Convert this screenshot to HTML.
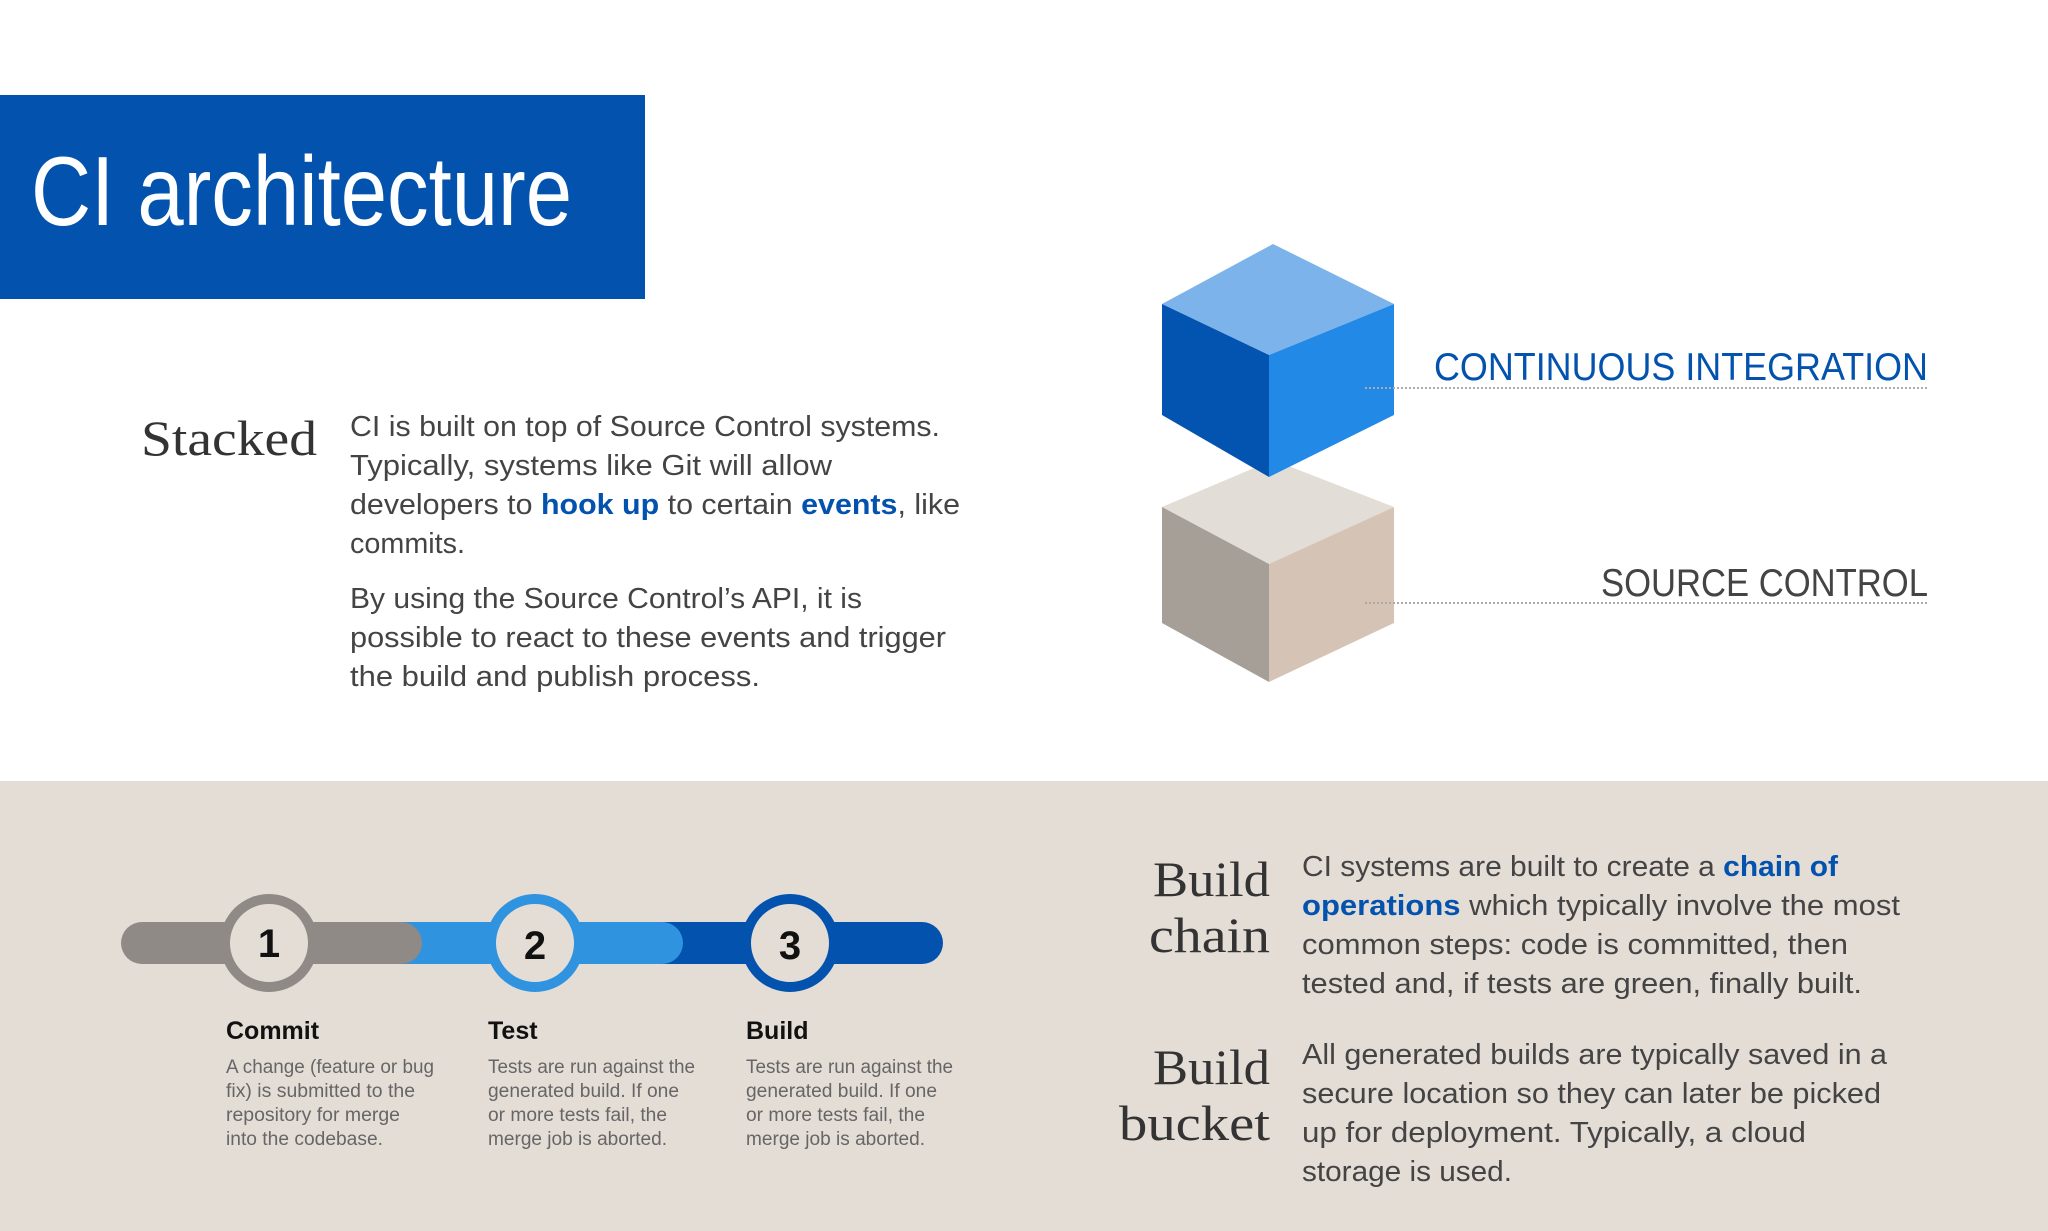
<!DOCTYPE html>
<html><head><meta charset="utf-8"><style>html,body{margin:0;padding:0;background:#fff}svg{display:block}</style></head>
<body>
<svg width="2048" height="1231" viewBox="0 0 2048 1231" xmlns="http://www.w3.org/2000/svg" font-family="Liberation Sans, sans-serif">
<rect width="2048" height="1231" fill="#fff"/>
<rect x="0" y="95" width="645" height="204" fill="#0353ae"/>
<text x="31" y="225" font-size="98" fill="#fff" textLength="541" lengthAdjust="spacingAndGlyphs">CI architecture</text>

<text x="141" y="455" font-size="50" font-family="Liberation Serif, serif" fill="#333" textLength="176" lengthAdjust="spacingAndGlyphs">Stacked</text>
<g font-size="29" fill="#444">
<text x="350" y="436" textLength="590" lengthAdjust="spacingAndGlyphs">CI is built on top of Source Control systems.</text>
<text x="350" y="475" textLength="482" lengthAdjust="spacingAndGlyphs">Typically, systems like Git will allow</text>
<text x="350" y="514" textLength="610" lengthAdjust="spacingAndGlyphs">developers to <tspan fill="#0353ae" font-weight="bold">hook up</tspan> to certain <tspan fill="#0353ae" font-weight="bold">events</tspan>, like</text>
<text x="350" y="553" textLength="115" lengthAdjust="spacingAndGlyphs">commits.</text>
<text x="350" y="608" textLength="512" lengthAdjust="spacingAndGlyphs">By using the Source Control’s API, it is</text>
<text x="350" y="647" textLength="596" lengthAdjust="spacingAndGlyphs">possible to react to these events and trigger</text>
<text x="350" y="686" textLength="410" lengthAdjust="spacingAndGlyphs">the build and publish process.</text>
</g>

<polygon points="1162,507 1273,460 1394,507 1269,564" fill="#e2ddd6"/>
<polygon points="1162,507 1269,564 1269,682 1162,623" fill="#a59f98"/>
<polygon points="1269,564 1394,507 1394,623 1269,682" fill="#d5c4b6"/>
<polygon points="1162,304 1273,244 1394,304 1269,355" fill="#7bb3ea"/>
<polygon points="1162,304 1269,355 1269,477 1162,415" fill="#0354b0"/>
<polygon points="1269,355 1394,304 1394,415 1269,477" fill="#2289e6"/>

<line x1="1365" y1="388" x2="1928" y2="388" stroke="#aaa" stroke-width="2" stroke-dasharray="2,2"/>
<line x1="1365" y1="603" x2="1928" y2="603" stroke="#aaa" stroke-width="2" stroke-dasharray="2,2"/>
<text x="1434" y="380" font-size="39" fill="#0353ae" textLength="494" lengthAdjust="spacingAndGlyphs">CONTINUOUS INTEGRATION</text>
<text x="1601" y="596" font-size="39" fill="#444" textLength="327" lengthAdjust="spacingAndGlyphs">SOURCE CONTROL</text>

<rect x="0" y="781" width="2048" height="450" fill="#e4ddd6"/>

<rect x="640" y="922" width="303" height="42" rx="21" fill="#0353ae"/>
<rect x="380" y="922" width="303" height="42" rx="21" fill="#2f93e0"/>
<rect x="121" y="922" width="301" height="42" rx="21" fill="#8f8a85"/>
<g stroke-width="10" fill="#e4ddd6">
<circle cx="269" cy="943" r="44" stroke="#8f8a85"/>
<circle cx="535" cy="943" r="44" stroke="#2f93e0"/>
<circle cx="790" cy="943" r="44" stroke="#0353ae"/>
</g>
<g font-size="40" font-weight="bold" fill="#111" text-anchor="middle">
<text x="269" y="957">1</text><text x="535" y="959">2</text><text x="790" y="959">3</text>
</g>
<g font-size="25" font-weight="bold" fill="#111">
<text x="226" y="1039">Commit</text><text x="488" y="1039">Test</text><text x="746" y="1039">Build</text>
</g>
<g font-size="19" fill="#666">
<text x="226" y="1073" textLength="208" lengthAdjust="spacingAndGlyphs">A change (feature or bug</text>
<text x="226" y="1097" textLength="189" lengthAdjust="spacingAndGlyphs">fix) is submitted to the</text>
<text x="226" y="1121" textLength="174" lengthAdjust="spacingAndGlyphs">repository for merge</text>
<text x="226" y="1145" textLength="157" lengthAdjust="spacingAndGlyphs">into the codebase.</text>
<text x="488" y="1073" textLength="207" lengthAdjust="spacingAndGlyphs">Tests are run against the</text>
<text x="488" y="1097" textLength="191" lengthAdjust="spacingAndGlyphs">generated build. If one</text>
<text x="488" y="1121" textLength="179" lengthAdjust="spacingAndGlyphs">or more tests fail, the</text>
<text x="488" y="1145" textLength="179" lengthAdjust="spacingAndGlyphs">merge job is aborted.</text>
<text x="746" y="1073" textLength="207" lengthAdjust="spacingAndGlyphs">Tests are run against the</text>
<text x="746" y="1097" textLength="191" lengthAdjust="spacingAndGlyphs">generated build. If one</text>
<text x="746" y="1121" textLength="179" lengthAdjust="spacingAndGlyphs">or more tests fail, the</text>
<text x="746" y="1145" textLength="179" lengthAdjust="spacingAndGlyphs">merge job is aborted.</text>
</g>

<g font-size="50" font-family="Liberation Serif, serif" fill="#333">
<text x="1153" y="896" textLength="117" lengthAdjust="spacingAndGlyphs">Build</text>
<text x="1149" y="952" textLength="121" lengthAdjust="spacingAndGlyphs">chain</text>
<text x="1153" y="1084" textLength="117" lengthAdjust="spacingAndGlyphs">Build</text>
<text x="1119" y="1140" textLength="151" lengthAdjust="spacingAndGlyphs">bucket</text>
</g>
<g font-size="29" fill="#444">
<text x="1302" y="876" textLength="536" lengthAdjust="spacingAndGlyphs">CI systems are built to create a <tspan fill="#0353ae" font-weight="bold">chain of</tspan></text>
<text x="1302" y="915" textLength="598" lengthAdjust="spacingAndGlyphs"><tspan fill="#0353ae" font-weight="bold">operations</tspan> which typically involve the most</text>
<text x="1302" y="954" textLength="546" lengthAdjust="spacingAndGlyphs">common steps: code is committed, then</text>
<text x="1302" y="993" textLength="560" lengthAdjust="spacingAndGlyphs">tested and, if tests are green, finally built.</text>
<text x="1302" y="1064" textLength="585" lengthAdjust="spacingAndGlyphs">All generated builds are typically saved in a</text>
<text x="1302" y="1103" textLength="579" lengthAdjust="spacingAndGlyphs">secure location so they can later be picked</text>
<text x="1302" y="1142" textLength="504" lengthAdjust="spacingAndGlyphs">up for deployment. Typically, a cloud</text>
<text x="1302" y="1181" textLength="210" lengthAdjust="spacingAndGlyphs">storage is used.</text>
</g>
</svg>
</body></html>
